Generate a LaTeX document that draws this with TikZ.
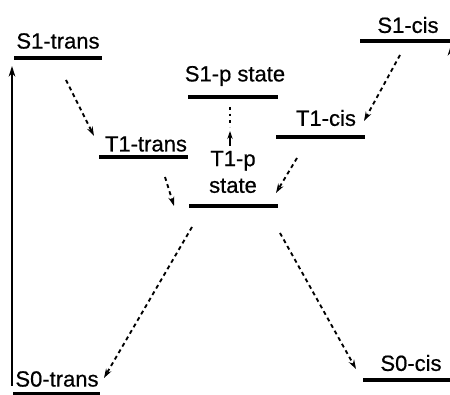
\documentclass[tikz,border=0pt]{standalone}
\usepackage{fontspec}
\setmainfont[FakeBold=0.6]{Liberation Sans}
\usetikzlibrary{arrows.meta}
\begin{document}
\begin{tikzpicture}[x=0.75pt,y=-0.75pt,
  lab/.style={inner sep=0pt,font=\fontsize{16.5}{20}\selectfont,align=center},
  bar/.style={line width=3pt},
  dsh/.style={line width=1.4pt,dash pattern=on 3pt off 2.6pt,-{Stealth[length=7pt,width=4.5pt]}},
  dotline/.style={line width=1pt,dash pattern=on 2pt off 3pt},
  solidarrow/.style={line width=1.1pt,-{Stealth[length=8pt,width=5pt]}}]
\useasboundingbox (0,0) rectangle (450,395);
% levels
\node[lab] (s1t) at (58,41) {S1-trans};
\coordinate (s1tL) at (14,58); \coordinate (s1tR) at (102,58);
\draw[bar] (s1tL) -- (s1tR);
\node[lab] (t1t) at (146,144) {T1-trans};
\coordinate (t1tL) at (99,157); \coordinate (t1tR) at (188,157);
\draw[bar] (t1tL) -- (t1tR);
\node[lab] (s1p) at (235,76) {S1-p state};
\coordinate (s1pL) at (188,97); \coordinate (s1pR) at (278,97);
\draw[bar] (s1pL) -- (s1pR);
\node[lab] (t1p) at (233,172) {T1-p\\state};
\coordinate (t1pL) at (189,206); \coordinate (t1pR) at (278,206);
\draw[bar] (t1pL) -- (t1pR);
\node[lab] (t1c) at (326,118) {T1-cis};
\coordinate (t1cL) at (276,137); \coordinate (t1cR) at (365,137);
\draw[bar] (t1cL) -- (t1cR);
\node[lab] (s1c) at (408,25) {S1-cis};
\coordinate (s1cL) at (360,41); \coordinate (s1cR) at (452,41);
\draw[bar] (s1cL) -- (s1cR);
\node[lab] (s0t) at (57,379) {S0-trans};
\coordinate (s0tL) at (13,394); \coordinate (s0tR) at (100,394);
\draw[bar] (s0tL) -- (s0tR);
\node[lab] (s0c) at (411,363) {S0-cis};
\coordinate (s0cL) at (363,380); \coordinate (s0cR) at (452,380);
\draw[bar] (s0cL) -- (s0cR);
% connectors
\coordinate (a1) at (66,80); \coordinate (a2) at (94,136);
\draw[dsh] (a1) -- (a2);
\coordinate (b1) at (400,55); \coordinate (b2) at (364,121);
\draw[dsh] (b1) -- (b2);
\coordinate (c1) at (297,158); \coordinate (c2) at (276,193);
\draw[dsh] (c1) -- (c2);
\coordinate (d1) at (165,177); \coordinate (d2) at (174,206);
\draw[dsh] (d1) -- (d2);
\coordinate (e1) at (192,227); \coordinate (e2) at (104,378);
\draw[dsh] (e1) -- (e2);
\coordinate (f1) at (280,233); \coordinate (f2) at (356,369);
\draw[dsh] (f1) -- (f2);
\coordinate (g1) at (230,107); \coordinate (g2) at (230,127);
\draw[dotline] (g1) -- (g2);
\coordinate (g3) at (230,146); \coordinate (g4) at (230,131);
\draw[line width=1.2pt,-{Stealth[length=6pt,width=4pt]}] (g3) -- (g4);
\coordinate (h1) at (12,386); \coordinate (h2) at (12,66);
\draw[solidarrow] (h1) -- (h2);
\coordinate (k1) at (451,378); \coordinate (k2) at (451,45);
\draw[solidarrow] (k1) -- (k2);
\end{tikzpicture}
\end{document}
